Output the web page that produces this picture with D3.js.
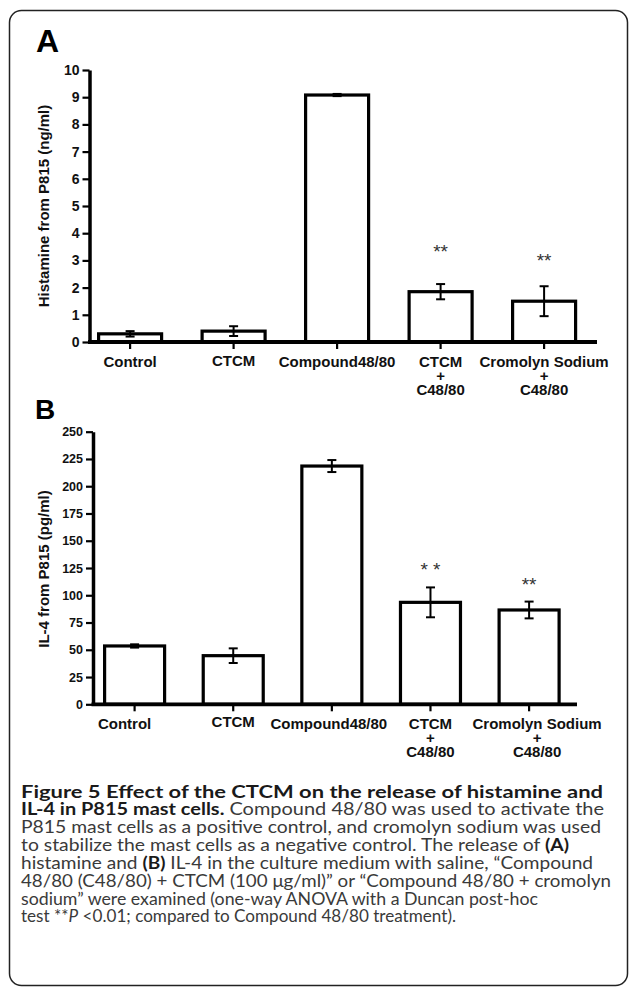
<!DOCTYPE html>
<html>
<head>
<meta charset="utf-8">
<script src="https://cdn.jsdelivr.net/npm/d3@7"></script>
<style>
  body { margin: 0; background: #fff; }
  svg { display: block; }
</style>
</head>
<body>
<div id="figure"></div>
<script>
// categories (one entry per bar, split into label lines)
const categories = ["Control", "CTCM", "Compound48/80", "CTCM + C48/80", "Cromolyn Sodium + C48/80"];
const categoryLines = [["Control"], ["CTCM"], ["Compound48/80"], ["CTCM", "+", "C48/80"], ["Cromolyn Sodium", "+", "C48/80"]];

// panel A: histamine (ng/ml)
const histamineMean = [0.3, 0.4, 9.08, 1.85, 1.5];
const histamineErr = [0.1, 0.18, 0.04, 0.28, 0.55];
const histamineSig = ["", "", "", "**", "**"];
const histamineTicks = [0, 1, 2, 3, 4, 5, 6, 7, 8, 9, 10];

// panel B: IL-4 (pg/ml)
const il4Mean = [53.5, 44.6, 218.5, 93.5, 86.5];
const il4Err = [1.5, 6.7, 5.5, 13.7, 7.7];
const il4Sig = ["", "", "", "* *", "**"];
const il4Ticks = [0, 25, 50, 75, 100, 125, 150, 175, 200, 225, 250];

const width = 629, height = 987;

let svg = d3.select("#figure")
    .append("svg")
    .attr("width", width)
    .attr("height", height);

// rounded frame
svg.append("rect")
    .attr("x", 9.5).attr("y", 10.5)
    .attr("width", 618).attr("height", 975)
    .attr("rx", 12)
    .attr("fill", "none")
    .attr("stroke", "#222")
    .attr("stroke-width", 1.5);

const chartFont = "'Liberation Sans', Arial, sans-serif";

function drawPanel(opt) {
    let g = svg.append("g").style("font-family", chartFont);

    let x = d3.scalePoint()
        .domain(categories)
        .range(opt.xRange);

    let y = d3.scaleLinear()
        .domain([0, opt.ticks[opt.ticks.length - 1]])
        .range(opt.yRange);

    let data = categories.map(function(c, i) {
        return {cat: c, lines: categoryLines[i], mean: opt.mean[i], err: opt.err[i], sig: opt.sig[i], shift: opt.labelShift[i]};
    });

    // panel letter
    g.append("text")
        .attr("x", opt.letterPos[0])
        .attr("y", opt.letterPos[1])
        .style("font-size", opt.letterSize + "px")
        .style("font-weight", "bold")
        .text(opt.letter);

    // y axis
    let yAxis = g.append("g")
        .attr("transform", `translate(${opt.axisX}, 0)`)
        .call(d3.axisLeft(y).tickValues(opt.ticks).tickSize(7).tickSizeOuter(0).tickPadding(3));
    yAxis.select(".domain").attr("stroke", "#000").attr("stroke-width", 3.5);
    yAxis.selectAll(".tick line").attr("stroke", "#000").attr("stroke-width", 2.2);
    yAxis.selectAll(".tick text")
        .attr("fill", "#111")
        .style("font-size", opt.tickSize + "px")
        .style("font-weight", "bold")
        .style("font-family", chartFont);

    // y axis title
    g.append("text")
        .attr("transform", `translate(${opt.titleX}, ${opt.titleY}) rotate(-90)`)
        .style("text-anchor", "middle")
        .style("font-size", "15px")
        .style("font-weight", "bold")
        .attr("fill", "#111")
        .text(opt.title);

    // bars
    g.selectAll("rect.bar").data(data).enter()
        .append("rect")
        .attr("class", "bar")
        .attr("x", function(d) { return x(d.cat) - opt.barWidth / 2; })
        .attr("y", function(d) { return y(d.mean); })
        .attr("width", opt.barWidth)
        .attr("height", function(d) { return y(0) - y(d.mean); })
        .attr("fill", "#fff")
        .attr("stroke", "#000")
        .attr("stroke-width", 3.2);

    // error bars
    let eb = g.selectAll("g.err").data(data).enter().append("g").attr("class", "err")
        .attr("stroke", "#000").attr("stroke-width", 2);
    eb.append("line")
        .attr("x1", function(d) { return x(d.cat); })
        .attr("x2", function(d) { return x(d.cat); })
        .attr("y1", function(d) { return y(d.mean + d.err); })
        .attr("y2", function(d) { return y(d.mean - d.err); });
    eb.append("line")
        .attr("x1", function(d) { return x(d.cat) - 4.5; })
        .attr("x2", function(d) { return x(d.cat) + 4.5; })
        .attr("y1", function(d) { return y(d.mean + d.err); })
        .attr("y2", function(d) { return y(d.mean + d.err); });
    eb.append("line")
        .attr("x1", function(d) { return x(d.cat) - 4.5; })
        .attr("x2", function(d) { return x(d.cat) + 4.5; })
        .attr("y1", function(d) { return y(d.mean - d.err); })
        .attr("y2", function(d) { return y(d.mean - d.err); });

    // significance marks
    g.selectAll("text.sig").data(data.filter(function(d) { return d.sig; })).enter()
        .append("text")
        .attr("class", "sig")
        .attr("x", function(d) { return x(d.cat); })
        .attr("y", function(d) { return y(opt.sigFromBar ? d.mean : d.mean + d.err) - opt.sigOffset; })
        .style("text-anchor", "middle")
        .style("font-size", "19px")
        .attr("fill", "#333")
        .text(function(d) { return d.sig; });

    // x axis line and ticks
    g.append("line")
        .attr("x1", opt.axisX - 1.5).attr("x2", opt.xAxisEnd)
        .attr("y1", y(0)).attr("y2", y(0))
        .attr("stroke", "#000").attr("stroke-width", 3.8);
    g.selectAll("line.xtick").data(data).enter()
        .append("line")
        .attr("class", "xtick")
        .attr("x1", function(d) { return x(d.cat); })
        .attr("x2", function(d) { return x(d.cat); })
        .attr("y1", y(0)).attr("y2", y(0) + 7)
        .attr("stroke", "#000").attr("stroke-width", 2.2);

    // category labels
    let labels = g.selectAll("text.xlab").data(data).enter()
        .append("text")
        .attr("class", "xlab")
        .attr("y", y(0) + opt.labelDy)
        .style("text-anchor", "middle")
        .style("font-size", "15px")
        .style("font-weight", "bold")
        .attr("fill", "#111");
    labels.selectAll("tspan")
        .data(function(d) { return d.lines.map(function(l) { return {l: l, d: d}; }); })
        .enter()
        .append("tspan")
        .attr("x", function(t) { return x(t.d.cat) + t.d.shift; })
        .attr("dy", function(t, i) { return i === 0 ? (t.d.lines.length === 1 && t.d.cat === "CTCM" ? -1.5 : 0) : 14.2; })
        .text(function(t) { return t.l; });
}

drawPanel({
    letter: "A", letterPos: [36, 52], letterSize: 32,
    mean: histamineMean, err: histamineErr, sig: histamineSig, ticks: histamineTicks,
    xRange: [130.1, 544.1], yRange: [342, 70], axisX: 89.5, xAxisEnd: 597,
    barWidth: 63, tickSize: 14,
    title: "Histamine from P815 (ng/ml)", titleX: 49, titleY: 206,
    sigFromBar: true, sigOffset: 34,
    labelDy: 25, labelShift: [0, 0, 0, 0, 0]
});

drawPanel({
    letter: "B", letterPos: [35, 419], letterSize: 28,
    mean: il4Mean, err: il4Err, sig: il4Sig, ticks: il4Ticks,
    xRange: [134.6, 529.1], yRange: [704.3, 431.7], axisX: 93, xAxisEnd: 577,
    barWidth: 60, tickSize: 12.5,
    title: "IL-4 from P815 (pg/ml)", titleX: 49, titleY: 569,
    sigFromBar: false, sigOffset: 11,
    labelDy: 24.5, labelShift: [-10, 0, -3, 0, 8]
});

// caption
const captionLines = [
    {end: 603, parts: [["Figure 5 Effect of the CTCM on the release of histamine and", "b"]]},
    {end: 604, parts: [["IL-4 in P815 mast cells.", "b"], [" Compound 48/80 was used to activate the", "r"]]},
    {end: 601, parts: [["P815 mast cells as a positive control, and cromolyn sodium was used", "r"]]},
    {end: 569, parts: [["to stabilize the mast cells as a negative control. The release of ", "r"], ["(A)", "b"]]},
    {end: 593, parts: [["histamine and ", "r"], ["(B)", "b"], [" IL-4 in the culture medium with saline, \u201cCompound", "r"]]},
    {end: 611, parts: [["48/80 (C48/80) + CTCM (100 \u03bcg/ml)\u201d or \u201cCompound 48/80 + cromolyn", "r"]]},
    {end: 538, parts: [["sodium\u201d were examined (one-way ANOVA with a Duncan post-hoc", "r"]]},
    {end: 456, parts: [["test **", "r"], ["P", "i"], [" <0.01; compared to Compound 48/80 treatment).", "r"]]}
];

let caption = svg.append("g").style("font-family", "Lato, 'Open Sans', sans-serif");
captionLines.forEach(function(line, i) {
    let t = caption.append("text")
        .attr("x", 21)
        .attr("y", 797.5 + i * 17.85)
        .attr("textLength", line.end - 21)
        .attr("lengthAdjust", "spacingAndGlyphs")
        .style("font-size", "16.5px");
    line.parts.forEach(function(p) {
        t.append("tspan")
            .style("font-weight", p[1] === "b" ? "bold" : "normal")
            .style("font-style", p[1] === "i" ? "italic" : "normal")
            .attr("fill", p[1] === "b" ? "#1a1a1a" : "#3a3a3a")
            .text(p[0]);
    });
});
</script>
</body>
</html>
